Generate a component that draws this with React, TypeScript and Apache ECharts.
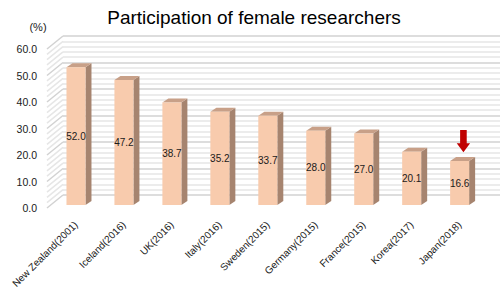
import React, { useEffect, useRef } from "react";
import * as echarts from "echarts";

const titleText = "Participation of female researchers";
const unitText = "(%)";
const categories = [
  "New Zealand(2001)",
  "Iceland(2016)",
  "UK(2016)",
  "Italy(2016)",
  "Sweden(2015)",
  "Germany(2015)",
  "France(2015)",
  "Korea(2017)",
  "Japan(2018)",
];
const values = [52.0, 47.2, 38.7, 35.2, 33.7, 28.0, 27.0, 20.1, 16.6];
const highlighted = "Japan(2018)";
const Y_MIN = 0;
const Y_MAX = 60;
const Y_MAJOR = 10;
const Y_MINOR = 2;

const FONT = '"Liberation Sans", Arial, Helvetica, sans-serif';
const FRONT = "#f8cbad";
const SIDE = "#a6846f";
const TOP = "#c8a088";
const GRID_MAJOR = "#d2d2d2";
const GRID_MINOR = "#e6e6e6";

// 3D geometry (depth offset between front label plane and back wall)
const WALL_DX = 16;
const WALL_DY = 13;
const BAR_W = 19;
const BAR_DX = 6;
const BAR_DY = 4;

export default function App() {
  const ref = useRef<HTMLDivElement>(null);

  useEffect(() => {
    if (!ref.current) return;
    const chart = echarts.init(ref.current, undefined, { renderer: "svg" });

    const wallTicks: number[][] = [];
    for (let v = Y_MIN; v <= Y_MAX + 1e-9; v += Y_MINOR) wallTicks.push([0, v]);

    const option: any = {
      animation: false,
      backgroundColor: "#ffffff",
      graphic: [
        {
          type: "text",
          x: 254,
          y: 17,
          style: {
            text: titleText,
            font: `19px ${FONT}`,
            fill: "#000000",
            align: "center",
            verticalAlign: "middle",
            textAlign: "center",
            textVerticalAlign: "middle",
          },
        },
        {
          type: "text",
          x: 38,
          y: 27,
          style: {
            text: unitText,
            font: `11px ${FONT}`,
            fill: "#1a1a1a",
            align: "center",
            verticalAlign: "middle",
            textAlign: "center",
            textVerticalAlign: "middle",
          },
        },
      ],
      grid: [
        { left: 63, top: 36, height: 159, right: 0, outerBoundsMode: "none", containLabel: false },
        { left: 47, top: 49, height: 159, width: 437, outerBoundsMode: "none", containLabel: false },
        { left: 52, top: 46, height: 159, width: 431.6, outerBoundsMode: "none", containLabel: false },
      ],
      xAxis: [
        { gridIndex: 0, type: "value", min: 0, max: 1, show: false },
        { gridIndex: 1, type: "value", min: 0, max: 1, show: false },
        {
          gridIndex: 2,
          type: "category",
          data: categories,
          axisLine: { show: false },
          axisTick: { show: false },
          splitLine: { show: false },
          axisLabel: {
            interval: 0,
            rotate: 45,
            margin: 18,
            fontSize: 10,
            fontFamily: FONT,
            color: "#1a1a1a",
          },
        },
      ],
      yAxis: [
        {
          gridIndex: 0,
          type: "value",
          min: Y_MIN,
          max: Y_MAX,
          interval: Y_MAJOR,
          axisLabel: { show: false },
          axisLine: { show: false },
          axisTick: { show: false },
          splitLine: { show: true, lineStyle: { color: GRID_MAJOR, width: 1.5 } },
          minorTick: { show: false, splitNumber: Y_MAJOR / Y_MINOR },
          minorSplitLine: { show: true, lineStyle: { color: GRID_MINOR, width: 1.5 } },
        },
        {
          gridIndex: 1,
          type: "value",
          min: Y_MIN,
          max: Y_MAX,
          interval: Y_MAJOR,
          axisLine: { show: false },
          axisTick: { show: false },
          splitLine: { show: false },
          axisLabel: {
            margin: 10,
            fontSize: 10.5,
            fontFamily: FONT,
            color: "#1a1a1a",
            formatter: (v: number) => v.toFixed(1),
          },
        },
        { gridIndex: 2, type: "value", min: Y_MIN, max: Y_MAX, show: false },
      ],
      series: [
        {
          type: "custom",
          name: "sidewall",
          xAxisIndex: 0,
          yAxisIndex: 0,
          silent: true,
          data: wallTicks,
          renderItem: (params: any, api: any) => {
            const v = api.value(1);
            const p = api.coord([0, v]);
            const major = Math.abs(v % Y_MAJOR) < 1e-6;
            return {
              type: "line",
              shape: { x1: p[0] - WALL_DX, y1: p[1] + WALL_DY, x2: p[0], y2: p[1] },
              style: { stroke: major ? GRID_MAJOR : GRID_MINOR, lineWidth: 1.5 },
            };
          },
        },
        {
          type: "custom",
          name: "bars",
          xAxisIndex: 2,
          yAxisIndex: 2,
          data: values.map((v, i) => [i, v]),
          renderItem: (params: any, api: any) => {
            const i = api.value(0);
            const v = api.value(1);
            const top = api.coord([i, v]);
            const base = api.coord([i, 0]);
            const x0 = top[0] - BAR_W / 2;
            const x1 = top[0] + BAR_W / 2;
            const yt = top[1];
            const yb = base[1];
            const children: any[] = [
              {
                type: "polygon",
                shape: { points: [[x1, yt], [x1 + BAR_DX, yt - BAR_DY], [x1 + BAR_DX, yb - BAR_DY], [x1, yb]] },
                style: { fill: SIDE },
              },
              {
                type: "polygon",
                shape: { points: [[x0, yt], [x0 + BAR_DX, yt - BAR_DY], [x1 + BAR_DX, yt - BAR_DY], [x1, yt]] },
                style: { fill: TOP },
              },
              {
                type: "polygon",
                shape: { points: [[x0, yt], [x1, yt], [x1, yb], [x0, yb]] },
                style: { fill: FRONT },
              },
              {
                type: "text",
                style: {
                  text: Number(v).toFixed(1),
                  x: top[0],
                  y: (yt + yb) / 2,
                  align: "center",
                  verticalAlign: "middle",
                  fill: "#1a1a1a",
                  font: `10px ${FONT}`,
                },
              },
            ];
            if (categories[i] === highlighted) {
              const cx = top[0] + 3.8;
              const tip = yt - 8.7;
              children.push({
                type: "polygon",
                shape: {
                  points: [
                    [cx, tip],
                    [cx - 6.7, tip - 9],
                    [cx - 3.3, tip - 9],
                    [cx - 3.3, tip - 22.3],
                    [cx + 3.3, tip - 22.3],
                    [cx + 3.3, tip - 9],
                    [cx + 6.7, tip - 9],
                  ],
                },
                style: { fill: "#c00000" },
              });
            }
            return { type: "group", children };
          },
        },
      ],
    };

    chart.setOption(option);
    return () => chart.dispose();
  }, []);

  return (
    <div
      ref={ref}
      style={{ position: "fixed", left: 0, top: 0, width: 500, height: 288, background: "#fff" }}
    />
  );
}
